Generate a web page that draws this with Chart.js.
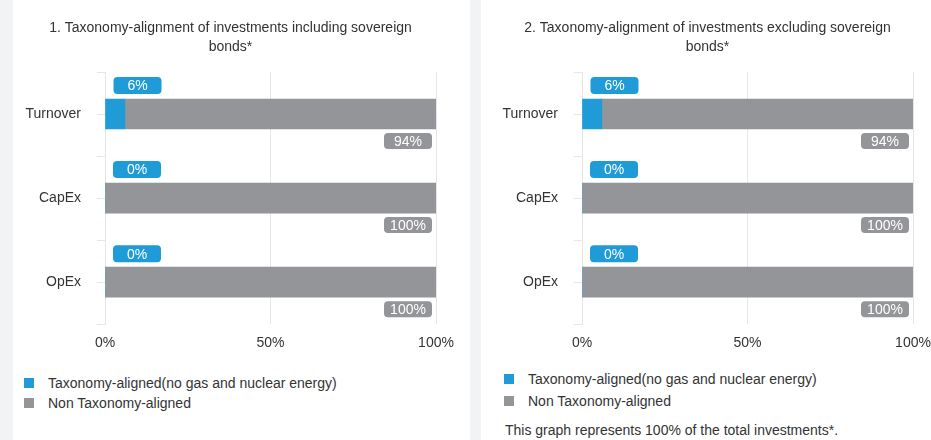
<!DOCTYPE html>
<html>
<head>
<meta charset="utf-8">
<script src="https://cdn.jsdelivr.net/npm/chart.js@4.4.1/dist/chart.umd.min.js"></script>
<style>
  body { margin: 0; width: 931px; height: 440px; background: #f2f3f5; position: relative; overflow: hidden;
         font-family: Arial, "Liberation Sans", sans-serif; color: #333; }
  .panel { position: absolute; top: 0; height: 440px; background: #fff; }
  #p1 { left: 13px; width: 457px; }
  #p2 { left: 481px; width: 450px; }
  .panel canvas { position: absolute; left: 0; top: 0; }
  .legend { position: absolute; font-size: 14px; }
  .legend div { display: flex; align-items: center; white-space: nowrap; }
  .legend .box { width: 10px; height: 10px; margin-right: 14px; flex: none; }
  .note { position: absolute; font-size: 14px; line-height: 16px; white-space: nowrap; }
</style>
</head>
<body>
<div class="panel" id="p1">
  <canvas id="c1" width="457" height="363"></canvas>
  <div class="legend" id="l1" style="left:11px; top:373px;"></div>
</div>
<div class="panel" id="p2">
  <canvas id="c2" width="450" height="363"></canvas>
  <div class="legend" id="l2" style="left:23px; top:368px;"></div>
  <div class="note" style="left:24px; top:422px;">This graph represents 100% of the total investments*.</div>
</div>
<script>
// data
const categories = ['Turnover', 'CapEx', 'OpEx'];
const alignedIncl = [6, 0, 0];
const nonAlignedIncl = [94, 100, 100];
const alignedExcl = [6, 0, 0];
const nonAlignedExcl = [94, 100, 100];
const seriesNames = ['Taxonomy-aligned(no gas and nuclear energy)', 'Non Taxonomy-aligned'];
const xTickValues = [0, 50, 100];

const blue = '#1f9bd7';
const grey = '#949599';
const gridColor = '#e6e6e6';
const textColor = '#333333';

Chart.defaults.font.family = 'Arial, "Liberation Sans", sans-serif';

// rounded value boxes: blue above the bar start, grey under the bar end
const boxLabels = {
    id: 'boxLabels',
    afterDatasetsDraw(chart) {
        const ctx = chart.ctx;
        chart.data.datasets.forEach((ds, di) => {
            chart.getDatasetMeta(di).data.forEach((bar, i) => {
                const p = bar.getProps(['x', 'y', 'base', 'height'], true);
                const left = Math.min(p.x, p.base);
                const right = Math.max(p.x, p.base);
                const top = p.y - p.height / 2;
                const bottom = p.y + p.height / 2;
                let bx, by, h;
                if (di === 0) {
                    h = 17; bx = left + 8; by = top - 5 - h;
                } else {
                    h = 16; bx = right - 4 - 48; by = bottom + 4;
                }
                ctx.save();
                ctx.fillStyle = ds.backgroundColor;
                ctx.beginPath();
                ctx.roundRect(bx, by, 48, h, 4);
                ctx.fill();
                ctx.fillStyle = '#ffffff';
                ctx.font = '14px Arial, "Liberation Sans", sans-serif';
                ctx.textAlign = 'center';
                ctx.textBaseline = 'middle';
                ctx.fillText(ds.data[i] + '%', bx + 24, by + h / 2 + 1);
                ctx.restore();
            });
        });
    }
};

// small ticks at the category centres too
const centreTicks = {
    id: 'centreTicks',
    afterDraw(chart) {
        const s = chart.scales.y;
        const ctx = chart.ctx;
        ctx.save();
        ctx.strokeStyle = gridColor;
        ctx.lineWidth = 1;
        categories.forEach((c, i) => {
            const y = Math.round(s.getPixelForValue(i)) + 0.5;
            ctx.beginPath();
            ctx.moveTo(s.right - 8, y);
            ctx.lineTo(s.right, y);
            ctx.stroke();
        });
        ctx.restore();
    }
};

function makeChart(id, titleLines, aligned, nonAligned, padLeft, padRight) {
    return new Chart(document.getElementById(id), {
        type: 'bar',
        data: {
            labels: categories,
            datasets: [
                { label: seriesNames[0], data: aligned, backgroundColor: blue, barThickness: 30, borderWidth: 0 },
                { label: seriesNames[1], data: nonAligned, backgroundColor: grey, barThickness: 30, borderWidth: 0 }
            ]
        },
        options: {
            indexAxis: 'y',
            responsive: false,
            animation: false,
            layout: { padding: { left: padLeft, right: padRight, top: 0, bottom: 0 } },
            plugins: {
                legend: { display: false },
                tooltip: { enabled: false },
                title: {
                    display: true,
                    text: titleLines,
                    color: textColor,
                    font: { size: 14, weight: 'normal', lineHeight: 19 / 14 },
                    padding: { top: 19, bottom: 15 }
                }
            },
            scales: {
                x: {
                    stacked: true,
                    min: 0,
                    max: 100,
                    afterBuildTicks: s => { s.ticks = xTickValues.map(v => ({ value: v })); },
                    afterFit: s => { s.paddingLeft = 0; s.paddingRight = 0; },
                    ticks: { callback: v => v + '%', color: textColor, font: { size: 14 }, padding: 11 },
                    grid: { color: gridColor, drawTicks: false },
                    border: { display: false }
                },
                y: {
                    stacked: true,
                    afterFit: s => { s.width = 80; },
                    ticks: { color: textColor, font: { size: 14 }, padding: 16 },
                    grid: { drawOnChartArea: false, tickLength: 8, color: gridColor },
                    border: { display: true, color: gridColor }
                }
            }
        },
        plugins: [boxLabels, centreTicks]
    });
}

makeChart('c1', ['1. Taxonomy-alignment of investments including sovereign', 'bonds*'],
    alignedIncl, nonAlignedIncl, 12, 34);
makeChart('c2', ['2. Taxonomy-alignment of investments excluding sovereign', 'bonds*'],
    alignedExcl, nonAlignedExcl, 21, 18);

function fillLegend(id, rowHeight) {
    const el = document.getElementById(id);
    [blue, grey].forEach((col, i) => {
        const row = document.createElement('div');
        row.style.height = rowHeight + 'px';
        const b = document.createElement('span');
        b.className = 'box';
        b.style.background = col;
        row.appendChild(b);
        row.appendChild(document.createTextNode(seriesNames[i]));
        el.appendChild(row);
    });
}
fillLegend('l1', 20);
fillLegend('l2', 22);
</script>
</body>
</html>
